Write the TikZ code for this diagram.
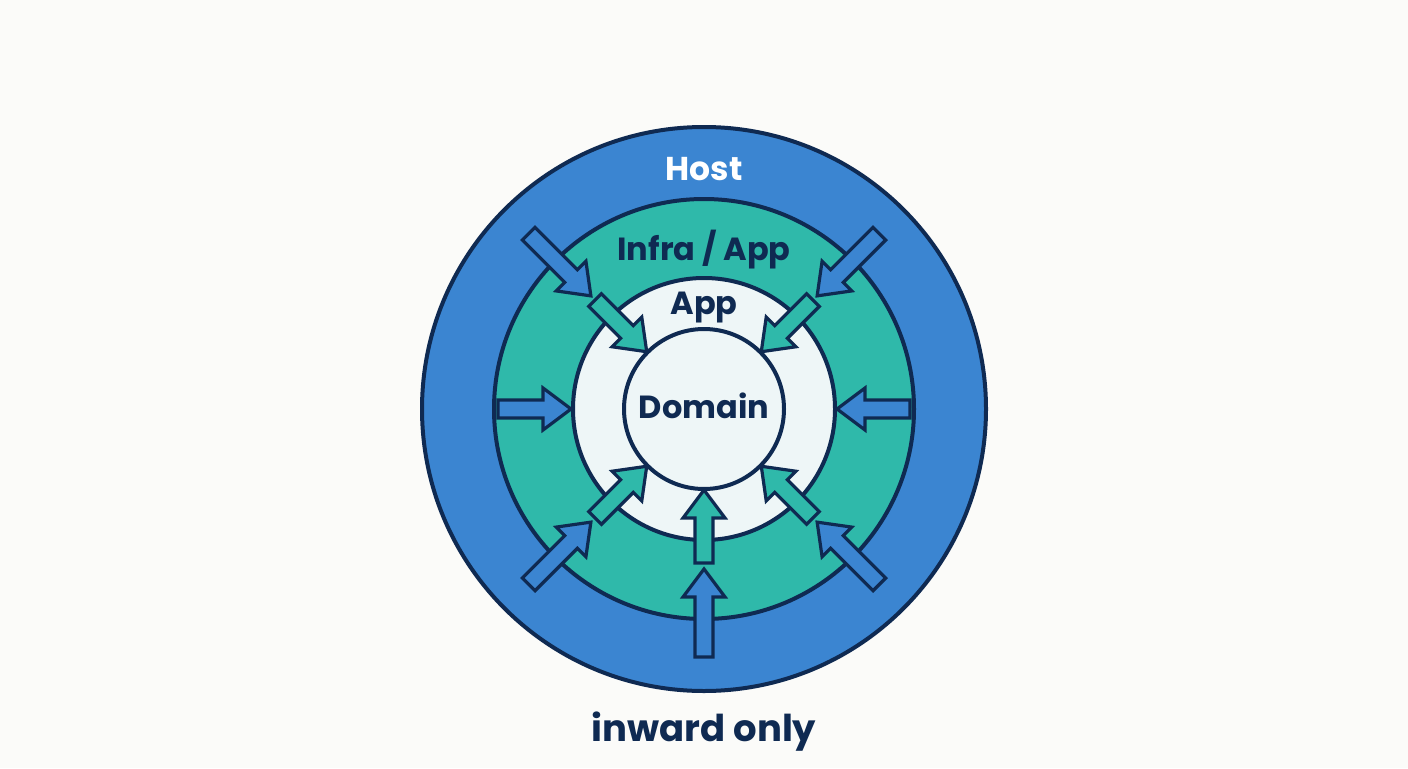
\documentclass[tikz,border=0pt]{standalone}
\usepackage{fontspec}
\setmainfont{Poppins}

\definecolor{bgwhite}{HTML}{FBFBF9}
\definecolor{hostblue}{HTML}{3B85D1}
\definecolor{infrateal}{HTML}{2FB9AA}
\definecolor{appwhite}{HTML}{EEF6F7}
\definecolor{navy}{HTML}{0F2A52}

% inward block arrow: angle, tail radius, tip radius, fill
\newcommand{\inarrow}[4]{%
  \begin{scope}[shift={(704,359)}, rotate=#1]
    \draw[arrowline, fill=#4] (#2,9) -- (#3+28,9) -- (#3+28,21) -- (#3,0)
      -- (#3+28,-21) -- (#3+28,-9) -- (#2,-9) -- cycle;
  \end{scope}}

\begin{document}
\begin{tikzpicture}[x=0.5pt, y=0.5pt,
    ring/.style={draw=navy, line width=2pt},
    arrowline/.style={draw=navy, line width=1.6pt, line join=miter},
    label/.style={font=\fontsize{16}{19}\selectfont\bfseries, text=navy}]
    \useasboundingbox[fill=bgwhite] (0,0) rectangle (1408,768);

    % rings
    \draw[ring, fill=hostblue] (704,359) circle (282);
    \draw[ring, fill=infrateal] (704,359) circle (210);
    \draw[ring, fill=appwhite] (704,359) circle (131);
    \draw[ring, fill=appwhite] (704,359) circle (80);

    % arrows from host into infra
    \foreach \a in {45,135,225,270,315} {
        \inarrow{\a}{248}{160}{hostblue}
    }
    \inarrow{0}{206}{133}{hostblue}
    \inarrow{180}{206}{133}{hostblue}

    % arrows from app into domain
    \foreach \a in {45,135,225,270,315} {
        \inarrow{\a}{154}{81}{infrateal}
    }

    \node[label, text=white, font=\fontsize{16.5}{19}\selectfont\bfseries] (host) at (704,599) {Host};
    \node[label] (infra) at (704,518) {Infra / App};
    \node[label] (app) at (704,460) {App};
    \node[label] (domain) at (704,362) {Domain};
    \node[label, font=\fontsize{18.5}{22}\selectfont\bfseries] (inward) at (704,36) {inward only};
\end{tikzpicture}
\end{document}
